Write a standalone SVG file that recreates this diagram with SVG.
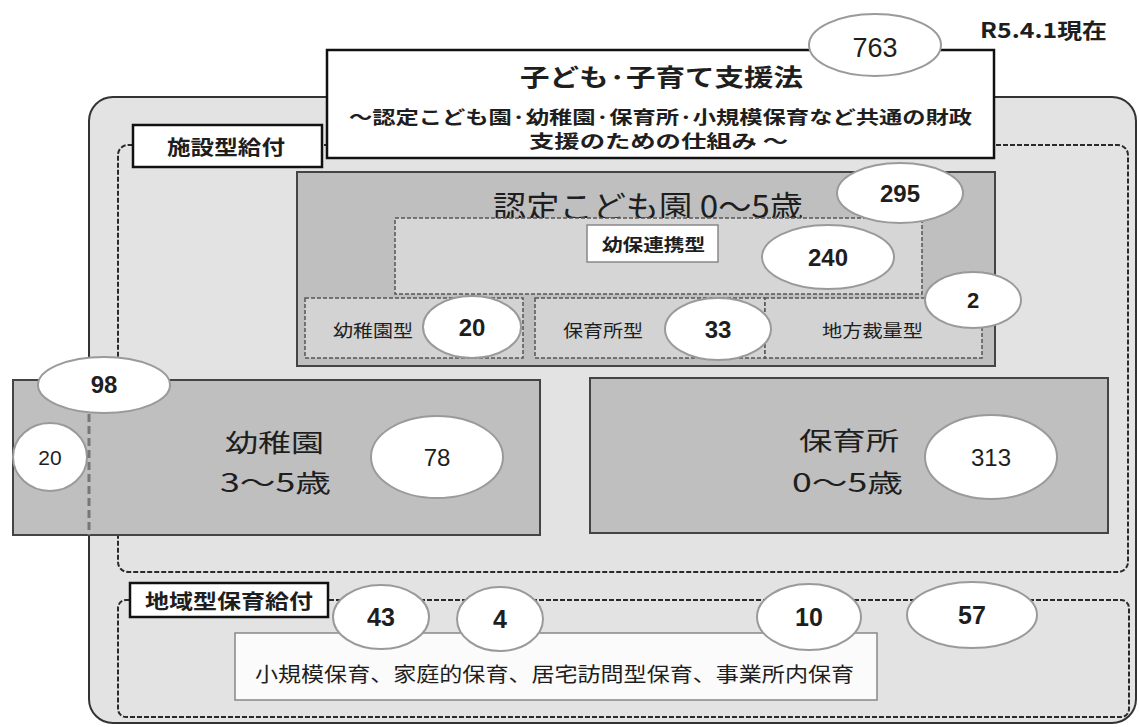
<svg xmlns="http://www.w3.org/2000/svg" width="1139" height="727" viewBox="0 0 1139 727">
<style>
.ell{fill:#fff;stroke:#9a9a9a;stroke-width:2}
.num{font-family:"Liberation Sans",Arial,sans-serif;text-anchor:middle;fill:#1e1e1e}
.b{font-weight:bold}
.jp{font-family:"Noto Sans CJK JP","Noto Sans CJK SC",sans-serif;fill:#1e1e1e}
.dash{fill:none;stroke:#2a2a2a;stroke-width:2;stroke-dasharray:5 2}
.dsub{stroke:#555;stroke-width:1.5;stroke-dasharray:4 2}
.box{fill:#bfbfbf;stroke:#444;stroke-width:2}
.lbl{fill:#fff;stroke:#111;stroke-width:2.5}
</style>
<rect width="1139" height="727" fill="#fff"/>
<g id="outer"><rect x="89" y="97" width="1047" height="626" rx="24" fill="#e3e3e3" stroke="#333" stroke-width="2"/></g>
<g id="shisetsu">
<rect class="dash" x="118" y="145" width="1010" height="427" rx="10"/>
<rect class="lbl" x="133" y="125" width="189" height="42"/>
<text class="jp" x="167" y="155" font-size="20" font-weight="bold" textLength="118" lengthAdjust="spacingAndGlyphs">施設型給付</text>
</g>
<g id="title">
<rect class="lbl" x="327" y="50" width="667" height="108"/>
<text class="jp" x="520" y="86" font-size="24" font-weight="bold" textLength="283" lengthAdjust="spacingAndGlyphs">子ども·子育て支援法</text>
<text class="jp" x="349" y="124" font-size="18" font-weight="bold" textLength="623" lengthAdjust="spacingAndGlyphs">〜認定こども園·幼稚園·保育所·小規模保育など共通の財政</text>
<text class="jp" x="529" y="148" font-size="18" font-weight="bold" textLength="259" lengthAdjust="spacingAndGlyphs">支援のための仕組み 〜</text>
<ellipse class="ell" cx="875" cy="45" rx="66" ry="31"/>
<text class="num" x="875" y="57" font-size="27">763</text>
</g>
<g id="date"><text class="jp" x="980" y="38" font-size="21" font-weight="bold" textLength="127" lengthAdjust="spacingAndGlyphs">R5.4.1現在</text></g>
<g id="nintei">
<rect class="box" x="297" y="172" width="698" height="194"/>
<text class="jp" x="493" y="218" font-size="31" textLength="310" lengthAdjust="spacingAndGlyphs">認定こども園 0〜5歳</text>
<rect class="dsub" fill="#d6d6d6" x="395" y="218" width="527" height="76"/>
<rect fill="#fff" stroke="#888" stroke-width="1.5" x="587" y="225" width="131" height="37"/>
<text class="jp" x="602" y="251" font-size="17" font-weight="bold" textLength="103" lengthAdjust="spacingAndGlyphs">幼保連携型</text>
<rect class="dsub" fill="#d3d3d3" x="305" y="298" width="218" height="60"/>
<text class="jp" x="333" y="337" font-size="17" textLength="80" lengthAdjust="spacingAndGlyphs">幼稚園型</text>
<rect class="dsub" fill="#d3d3d3" x="535" y="298" width="230" height="60"/>
<text class="jp" x="563" y="337" font-size="17" textLength="80" lengthAdjust="spacingAndGlyphs">保育所型</text>
<rect class="dsub" fill="#d3d3d3" x="765" y="298" width="217" height="60"/>
<text class="jp" x="822" y="337" font-size="17" textLength="101" lengthAdjust="spacingAndGlyphs">地方裁量型</text>
<ellipse class="ell" cx="900" cy="193" rx="63" ry="30"/>
<text class="num b" x="900" y="202" font-size="24">295</text>
<ellipse class="ell" cx="828" cy="257" rx="66" ry="32"/>
<text class="num b" x="828" y="266" font-size="24">240</text>
<ellipse class="ell" cx="973" cy="300" rx="48" ry="28"/>
<text class="num b" x="973" y="308" font-size="22">2</text>
<ellipse class="ell" cx="472" cy="327" rx="49" ry="31"/>
<text class="num b" x="472" y="336" font-size="24">20</text>
<ellipse class="ell" cx="718" cy="329" rx="53" ry="31"/>
<text class="num b" x="718" y="338" font-size="24">33</text>
</g>
<g id="youchien">
<rect class="box" stroke="#555" stroke-width="1.5" x="13" y="380" width="527" height="155"/>
<text class="jp" x="225" y="452" font-size="25" textLength="99" lengthAdjust="spacingAndGlyphs">幼稚園</text>
<text class="jp" x="220" y="492" font-size="25" textLength="111" lengthAdjust="spacingAndGlyphs">3〜5歳</text>
<ellipse class="ell" cx="437" cy="457" rx="66" ry="41"/>
<text class="num" x="437" y="466" font-size="24">78</text>
<ellipse class="ell" cx="50" cy="457" rx="37" ry="34"/>
<text class="num" x="50" y="465" font-size="21">20</text>
<ellipse class="ell" cx="104" cy="385" rx="66" ry="28"/>
<text class="num b" x="104" y="393" font-size="24">98</text>
</g>
<g id="connectors">
<line x1="89" y1="414" x2="89" y2="535" stroke="#777" stroke-width="3" stroke-dasharray="8 4"/>
</g>
<g id="hoikusho">
<rect class="box" stroke="#555" stroke-width="1.5" x="590" y="378" width="518" height="155"/>
<text class="jp" x="799" y="450" font-size="25" textLength="100" lengthAdjust="spacingAndGlyphs">保育所</text>
<text class="jp" x="792" y="492" font-size="25" textLength="111" lengthAdjust="spacingAndGlyphs">0〜5歳</text>
<ellipse class="ell" cx="991" cy="457" rx="66" ry="42"/>
<text class="num" x="991" y="466" font-size="24">313</text>
</g>
<g id="chiiki">
<rect class="dash" x="118" y="600" width="1011" height="117" rx="8"/>
<rect class="lbl" x="130" y="583" width="198" height="34"/>
<text class="jp" x="145" y="609" font-size="20" font-weight="bold" textLength="168" lengthAdjust="spacingAndGlyphs">地域型保育給付</text>
<rect fill="#fbfbfb" stroke="#888" stroke-width="1.5" x="235" y="633" width="642" height="67"/>
<text class="jp" x="255" y="682" font-size="20" textLength="599" lengthAdjust="spacingAndGlyphs">小規模保育、家庭的保育、居宅訪問型保育、事業所内保育</text>
<ellipse class="ell" cx="381" cy="617" rx="48" ry="32"/>
<text class="num b" x="381" y="626" font-size="25">43</text>
<ellipse class="ell" cx="500" cy="619" rx="43" ry="32"/>
<text class="num b" x="500" y="628" font-size="25">4</text>
<ellipse class="ell" cx="809" cy="617" rx="52" ry="33"/>
<text class="num b" x="809" y="626" font-size="25">10</text>
<ellipse class="ell" cx="972" cy="615" rx="65" ry="33"/>
<text class="num b" x="972" y="624" font-size="25">57</text>
</g>
</svg>
